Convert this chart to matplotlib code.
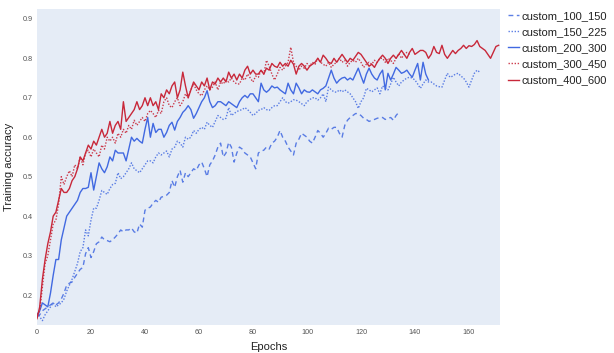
import matplotlib
matplotlib.use("Agg")
import matplotlib.pyplot as plt
import numpy as np

plt.rcParams['font.family'] = ['Liberation Sans', 'DejaVu Sans']

series_names = ["custom_100_150", "custom_150_225", "custom_200_300", "custom_300_450", "custom_400_600"]

custom_100_150 = [0.145, 0.15, 0.16, 0.165, 0.17, 0.175, 0.18, 0.175, 0.18, 0.19,
    0.205, 0.225, 0.23, 0.233, 0.245, 0.255, 0.265, 0.27, 0.305, 0.32,
    0.295, 0.31, 0.33, 0.335, 0.347, 0.34, 0.338, 0.335, 0.34, 0.347,
    0.355, 0.365, 0.36, 0.365, 0.365, 0.37, 0.36, 0.357, 0.38, 0.372,
    0.415, 0.42, 0.423, 0.433, 0.44, 0.435, 0.448, 0.45, 0.453, 0.46,
    0.49, 0.473, 0.50, 0.516, 0.486, 0.51, 0.50, 0.51, 0.52, 0.516,
    0.53, 0.537, 0.52, 0.50, 0.53, 0.54, 0.555, 0.575, 0.585, 0.55,
    0.56, 0.587, 0.575, 0.537, 0.56, 0.575, 0.57, 0.56, 0.555, 0.55,
    0.535, 0.52, 0.56, 0.565, 0.567, 0.575, 0.57, 0.585, 0.59, 0.60,
    0.617, 0.60, 0.59, 0.575, 0.565, 0.555, 0.585, 0.595, 0.61, 0.605,
    0.60, 0.59, 0.585, 0.60, 0.617, 0.61, 0.60, 0.61, 0.623, 0.62,
    0.625, 0.625, 0.61, 0.60, 0.63, 0.643, 0.65, 0.655, 0.66, 0.66,
    0.655, 0.648, 0.645, 0.64, 0.643, 0.645, 0.648, 0.65, 0.65, 0.645,
    0.648, 0.65, 0.643, 0.655, 0.663]

custom_150_225 = [0.155, 0.145, 0.135, 0.15, 0.16, 0.17, 0.18, 0.17, 0.175, 0.18,
    0.19, 0.21, 0.225, 0.24, 0.26, 0.28, 0.31, 0.32, 0.365, 0.35,
    0.39, 0.42, 0.42, 0.44, 0.465, 0.46, 0.455, 0.47, 0.48, 0.483,
    0.51, 0.495, 0.50, 0.51, 0.52, 0.535, 0.52, 0.515, 0.51, 0.52,
    0.53, 0.54, 0.54, 0.535, 0.55, 0.56, 0.555, 0.56, 0.565, 0.55,
    0.57, 0.575, 0.59, 0.585, 0.575, 0.60, 0.595, 0.60, 0.617, 0.61,
    0.62, 0.625, 0.62, 0.638, 0.63, 0.625, 0.64, 0.655, 0.65, 0.645,
    0.648, 0.675, 0.655, 0.66, 0.665, 0.668, 0.67, 0.675, 0.67, 0.663,
    0.655, 0.66, 0.668, 0.67, 0.675, 0.67, 0.668, 0.675, 0.68, 0.68,
    0.69, 0.70, 0.69, 0.686, 0.69, 0.695, 0.694, 0.69, 0.685, 0.68,
    0.69, 0.695, 0.70, 0.70, 0.694, 0.70, 0.71, 0.69, 0.727, 0.72,
    0.715, 0.714, 0.72, 0.715, 0.72, 0.715, 0.71, 0.70, 0.69, 0.673,
    0.69, 0.70, 0.724, 0.72, 0.715, 0.72, 0.725, 0.71, 0.73, 0.725,
    0.72, 0.735, 0.752, 0.74, 0.73, 0.74, 0.745, 0.75, 0.752, 0.75,
    0.745, 0.735, 0.724, 0.735, 0.745, 0.74, 0.74, 0.735, 0.73, 0.728,
    0.727, 0.745, 0.762, 0.752, 0.755, 0.76, 0.762, 0.755, 0.75, 0.74,
    0.727, 0.745, 0.762, 0.77, 0.765]

custom_200_300 = [0.145, 0.16, 0.18, 0.175, 0.17, 0.205, 0.25, 0.29, 0.29, 0.34,
    0.37, 0.40, 0.41, 0.42, 0.43, 0.44, 0.46, 0.47, 0.47, 0.473,
    0.51, 0.466, 0.50, 0.535, 0.52, 0.51, 0.525, 0.55, 0.54, 0.567,
    0.56, 0.56, 0.56, 0.54, 0.57, 0.60, 0.59, 0.597, 0.59, 0.585,
    0.62, 0.65, 0.60, 0.635, 0.612, 0.62, 0.62, 0.60, 0.612, 0.63,
    0.638, 0.618, 0.64, 0.65, 0.663, 0.67, 0.68, 0.67, 0.648, 0.66,
    0.675, 0.69, 0.70, 0.718, 0.69, 0.675, 0.68, 0.69, 0.69, 0.685,
    0.68, 0.69, 0.685, 0.68, 0.675, 0.69, 0.70, 0.706, 0.70, 0.71,
    0.71, 0.70, 0.69, 0.737, 0.72, 0.714, 0.72, 0.73, 0.725, 0.727,
    0.72, 0.715, 0.71, 0.737, 0.72, 0.71, 0.737, 0.725, 0.71, 0.72,
    0.715, 0.714, 0.72, 0.715, 0.71, 0.72, 0.724, 0.73, 0.75, 0.77,
    0.75, 0.737, 0.745, 0.75, 0.752, 0.745, 0.75, 0.745, 0.76, 0.775,
    0.755, 0.737, 0.76, 0.775, 0.76, 0.75, 0.745, 0.76, 0.77, 0.72,
    0.762, 0.745, 0.76, 0.777, 0.77, 0.762, 0.765, 0.77, 0.76, 0.752,
    0.77, 0.787, 0.745, 0.79, 0.76, 0.745]

custom_300_450 = [0.15, 0.16, 0.22, 0.28, 0.30, 0.34, 0.38, 0.39, 0.43, 0.50,
    0.48, 0.50, 0.515, 0.50, 0.53, 0.52, 0.55, 0.53, 0.56, 0.567,
    0.55, 0.57, 0.56, 0.55, 0.58, 0.57, 0.60, 0.59, 0.60, 0.585,
    0.61, 0.60, 0.62, 0.61, 0.63, 0.62, 0.643, 0.63, 0.64, 0.65,
    0.64, 0.66, 0.668, 0.66, 0.65, 0.668, 0.66, 0.69, 0.70, 0.68,
    0.675, 0.69, 0.70, 0.68, 0.69, 0.71, 0.70, 0.72, 0.735, 0.72,
    0.71, 0.705, 0.72, 0.73, 0.72, 0.727, 0.74, 0.72, 0.74, 0.735,
    0.745, 0.74, 0.75, 0.74, 0.735, 0.735, 0.75, 0.745, 0.76, 0.75,
    0.74, 0.755, 0.752, 0.77, 0.76, 0.795, 0.78, 0.76, 0.745, 0.76,
    0.777, 0.77, 0.78, 0.79, 0.828, 0.79, 0.78, 0.77, 0.78, 0.775,
    0.787, 0.78, 0.79, 0.785, 0.80, 0.79, 0.785, 0.78, 0.79, 0.777,
    0.785, 0.79, 0.80, 0.79, 0.795, 0.78, 0.79, 0.795, 0.79, 0.80,
    0.79, 0.777, 0.785, 0.79, 0.785, 0.795, 0.79, 0.80, 0.80, 0.79,
    0.80, 0.795, 0.787, 0.80, 0.812, 0.80, 0.81, 0.815, 0.81]

custom_400_600 = [0.14, 0.17, 0.24, 0.29, 0.33, 0.36, 0.40, 0.41, 0.44, 0.47,
    0.46, 0.46, 0.47, 0.49, 0.50, 0.52, 0.55, 0.54, 0.56, 0.58,
    0.57, 0.59, 0.58, 0.60, 0.62, 0.60, 0.61, 0.64, 0.61, 0.63,
    0.64, 0.62, 0.69, 0.64, 0.65, 0.66, 0.67, 0.69, 0.67, 0.68,
    0.70, 0.68, 0.70, 0.68, 0.69, 0.67, 0.71, 0.70, 0.72, 0.71,
    0.73, 0.74, 0.70, 0.72, 0.765, 0.73, 0.70, 0.72, 0.74, 0.73,
    0.72, 0.74, 0.73, 0.75, 0.72, 0.74, 0.735, 0.75, 0.74, 0.75,
    0.74, 0.765, 0.75, 0.76, 0.745, 0.76, 0.75, 0.77, 0.78, 0.76,
    0.77, 0.76, 0.76, 0.77, 0.76, 0.775, 0.77, 0.787, 0.78, 0.777,
    0.79, 0.78, 0.787, 0.78, 0.795, 0.785, 0.76, 0.78, 0.787, 0.78,
    0.77, 0.78, 0.785, 0.79, 0.80, 0.79, 0.808, 0.80, 0.79, 0.787,
    0.80, 0.79, 0.80, 0.81, 0.80, 0.79, 0.80, 0.795, 0.805, 0.815,
    0.81, 0.80, 0.79, 0.78, 0.785, 0.777, 0.79, 0.80, 0.808, 0.80,
    0.787, 0.80, 0.808, 0.80, 0.81, 0.82, 0.81, 0.80, 0.815, 0.825,
    0.81, 0.815, 0.82, 0.82, 0.815, 0.80, 0.81, 0.83, 0.815, 0.812,
    0.833, 0.81, 0.80, 0.81, 0.82, 0.812, 0.82, 0.825, 0.833, 0.825,
    0.832, 0.83, 0.835, 0.845, 0.83, 0.825, 0.82, 0.81, 0.80, 0.815,
    0.83, 0.833]

x_ticks = [0, 20, 40, 60, 80, 100, 120, 140, 160]
y_ticks = [0.2, 0.3, 0.4, 0.5, 0.6, 0.7, 0.8, 0.9]

blue = "#4169E1"
red = "#C8283A"
styles = {
    "custom_100_150": dict(color=blue, linestyle=(0, (3.5, 2.5)), alpha=0.85),
    "custom_150_225": dict(color=blue, linestyle=(0, (1, 1.2)), alpha=0.85),
    "custom_200_300": dict(color=blue, linestyle="-", alpha=1.0),
    "custom_300_450": dict(color=red, linestyle=(0, (1, 1.2)), alpha=0.9),
    "custom_400_600": dict(color=red, linestyle="-", alpha=1.0),
}
data = {
    "custom_100_150": custom_100_150,
    "custom_150_225": custom_150_225,
    "custom_200_300": custom_200_300,
    "custom_300_450": custom_300_450,
    "custom_400_600": custom_400_600,
}

fig = plt.figure(figsize=(6.14, 3.53), dpi=100)
ax = fig.add_axes([37/614, 1-325/353, (500-37)/614, (325-9)/353])
ax.set_facecolor("#E5ECF6")
for name in series_names:
    y = data[name]
    ax.plot(np.arange(len(y)), y, lw=1.0, label=name, **styles[name])

ax.set_xlim(0, 171.5)
ax.set_ylim(0.124, 0.925)
ax.set_xticks(x_ticks)
ax.set_yticks(y_ticks)
ax.set_yticklabels([f"{v:.1f}" for v in y_ticks])
ax.tick_params(length=0, labelsize=5.2, colors="#555555", pad=3)
for s in ax.spines.values():
    s.set_visible(False)
ax.set_xlabel("Epochs", fontsize=8, color="#222222", labelpad=4)
ax.set_ylabel("Training accuracy", fontsize=8, color="#222222", labelpad=6)

handles, labels = ax.get_legend_handles_labels()
leg = fig.legend(handles, labels, loc="upper left",
                 bbox_to_anchor=(508/614, 1-11/353), bbox_transform=fig.transFigure,
                 frameon=False, fontsize=8, handlelength=0.95, handletextpad=0.3,
                 labelspacing=0.55, borderpad=0.0, borderaxespad=0.0,
                 labelcolor="#222222")

fig.savefig("out.png", dpi=100)
